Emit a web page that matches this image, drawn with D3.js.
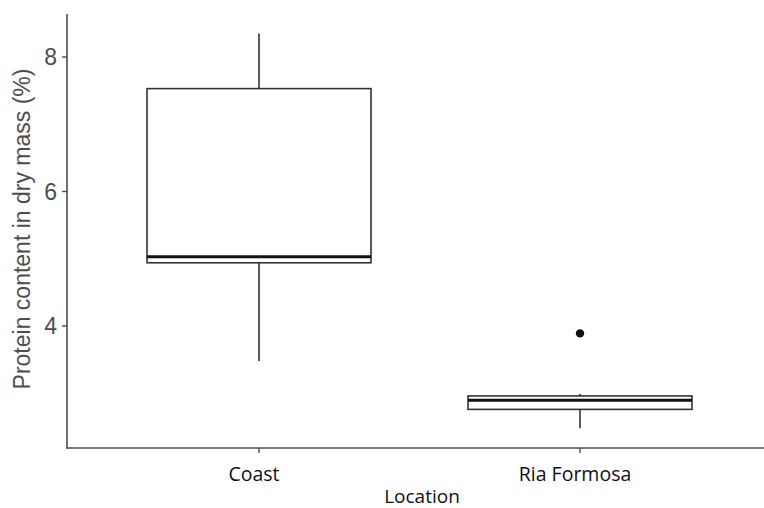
<!DOCTYPE html>
<html>
<head>
<meta charset="utf-8">
<script src="https://cdn.jsdelivr.net/npm/d3@7"></script>
<style>
  body { margin: 0; background: #fff; }
  svg { display: block; }
</style>
</head>
<body>
<svg id="chart" width="764" height="508"></svg>
<script>
// box stats
const locations = ["Coast", "Ria Formosa"];
const whiskerLow = [3.48, 2.48];
const q1 = [4.94, 2.76];
const median = [5.03, 2.895];
const q3 = [7.53, 2.96];
const whiskerHigh = [8.35, 2.99];
const outliers = [[], [3.89]];
const yTicks = [4, 6, 8];

var svg = d3.select("#chart");
var axisColor = "#4d4d4d";

var y = d3.scaleLinear()
    .domain([2, 8])
    .range([57 + 6 * 67.25, 57]);

var x = d3.scalePoint()
    .domain(locations)
    .range([259, 580]);

var boxW = 224;

// axis lines
svg.append("line")
    .attr("x1", 67).attr("x2", 67)
    .attr("y1", 14).attr("y2", 448.5)
    .attr("stroke", axisColor).attr("stroke-width", 1.6);
svg.append("line")
    .attr("x1", 66.2).attr("x2", 764)
    .attr("y1", 448).attr("y2", 448)
    .attr("stroke", axisColor).attr("stroke-width", 1.6);

// y ticks
let yt = svg.append("g").selectAll("g")
    .data(yTicks)
    .enter().append("g")
    .attr("transform", d => "translate(0," + y(d) + ")");
yt.append("line")
    .attr("x1", 62).attr("x2", 67)
    .attr("stroke", axisColor).attr("stroke-width", 1.4);
yt.append("text")
    .attr("x", 57).attr("dy", "0.36em")
    .attr("text-anchor", "end")
    .style("font-family", "Liberation Sans, Arial, sans-serif")
    .style("font-size", "23px")
    .attr("fill", "#4d4d4d")
    .text(d => d);

// x ticks + labels
let xt = svg.append("g").selectAll("g")
    .data(locations)
    .enter().append("g")
    .attr("transform", d => "translate(" + x(d) + ",0)");
xt.append("line")
    .attr("y1", 448).attr("y2", 453)
    .attr("stroke", axisColor).attr("stroke-width", 1.4);
xt.append("text")
    .attr("x", -5).attr("y", 481)
    .attr("text-anchor", "middle")
    .style("font-family", "Open Sans, sans-serif")
    .style("font-size", "19.5px")
    .attr("fill", "#111")
    .text(d => d);

// axis titles
svg.append("text")
    .attr("x", 422).attr("y", 503)
    .attr("text-anchor", "middle")
    .style("font-family", "Open Sans, sans-serif")
    .style("font-size", "19px")
    .attr("fill", "#111")
    .text("Location");

svg.append("text")
    .attr("transform", "translate(30,229) rotate(-90)")
    .attr("text-anchor", "middle")
    .style("font-family", "Liberation Sans, Arial, sans-serif")
    .style("font-size", "23px")
    .attr("fill", "#4d4d4d")
    .text("Protein content in dry mass (%)");

// boxes
let boxes = svg.append("g").selectAll("g")
    .data(locations)
    .enter().append("g");

boxes.append("line")
    .attr("x1", d => x(d)).attr("x2", d => x(d))
    .attr("y1", (d, i) => y(whiskerHigh[i]))
    .attr("y2", (d, i) => y(q3[i]))
    .attr("stroke", "#333").attr("stroke-width", 1.6);
boxes.append("line")
    .attr("x1", d => x(d)).attr("x2", d => x(d))
    .attr("y1", (d, i) => y(q1[i]))
    .attr("y2", (d, i) => y(whiskerLow[i]))
    .attr("stroke", "#333").attr("stroke-width", 1.6);
boxes.append("rect")
    .attr("x", d => x(d) - boxW / 2)
    .attr("width", boxW)
    .attr("y", (d, i) => y(q3[i]))
    .attr("height", (d, i) => y(q1[i]) - y(q3[i]))
    .attr("fill", "#fff")
    .attr("stroke", "#333").attr("stroke-width", 1.6);
boxes.append("line")
    .attr("x1", d => x(d) - boxW / 2).attr("x2", d => x(d) + boxW / 2)
    .attr("y1", (d, i) => y(median[i]))
    .attr("y2", (d, i) => y(median[i]))
    .attr("stroke", "#111").attr("stroke-width", 3);

// outliers
locations.forEach(function (loc, i) {
  svg.append("g").selectAll("circle")
    .data(outliers[i])
    .enter().append("circle")
    .attr("cx", x(loc))
    .attr("cy", d => y(d))
    .attr("r", 4.2)
    .attr("fill", "#111");
});
</script>
</body>
</html>
